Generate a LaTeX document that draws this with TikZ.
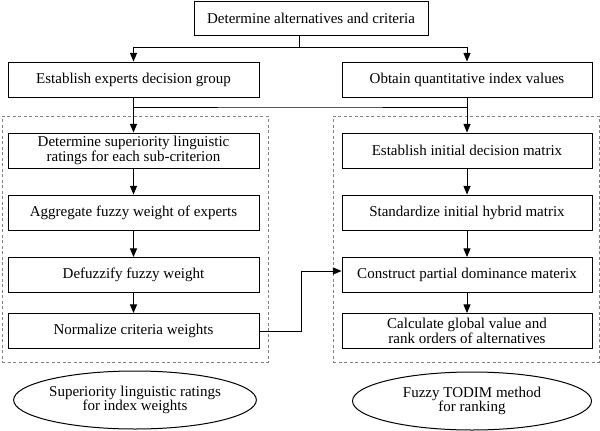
\documentclass[tikz,border=0pt]{standalone}
\usepackage{fontspec}
\setmainfont{Liberation Serif}
\usetikzlibrary{shapes,arrows}
\tikzset{%
	block/.style    	= {draw, rectangle, inner sep = 0pt, align = center, minimum height = 35pt, minimum width = 251pt},
	rblock/.style   	= {block, minimum width = 250pt},
	oval/.style     	= {draw, ellipse, inner sep = 0pt, align = center, minimum height = 58pt}, % Method labels
	frame/.style    	= {draw = gray, dashed, dash pattern = on 3pt off 2.5pt, line width = 0.7pt, rectangle, minimum width = 266pt, minimum height = 246pt},
	input/.style    	= {coordinate} % Branch point
}

\begin{document}
\begin{tikzpicture}[x = 1pt, y = -1pt, line width = 1pt, >=triangle 45, font = \fontsize{15}{14.5}\selectfont]
	\useasboundingbox (0, 0) rectangle (600, 431);
	\draw % Drawing the dashed frames
	node at (135, 239) [frame] (leftframe) {}
	node at (466, 239) [frame] (rightframe) {}
	;

	\draw % Drawing the steps
	node at (311, 18) [block, minimum width = 234pt, minimum height = 34pt] (alts) {Determine alternatives and criteria}
	node at (133.5, 79.5) [block] (group) {Establish experts decision group}
	node at (467, 79.5) [rblock] (index) {Obtain quantitative index values}
	node at (133.5, 150.5) [block] (rate) {Determine superiority linguistic\\ratings for each sub-criterion}
	node at (133.5, 212.5) [block] (aggr) {Aggregate fuzzy weight of experts}
	node at (133.5, 275) [block] (defuzz) {Defuzzify fuzzy weight}
	node at (133.5, 331) [block] (norm) {Normalize criteria weights}
	node at (467, 150.5) [rblock] (decmat) {Establish initial decision matrix}
	node at (467, 212.5) [rblock] (stdmat) {Standardize initial hybrid matrix}
	node at (467, 275) [rblock] (dommat) {Construct partial dominance materix}
	node at (467, 331) [rblock] (rank) {Calculate global value and\\rank orders of alternatives}
	node at (135, 400) [oval, minimum width = 228pt] (ratingsoval) {Superiority linguistic ratings\\for index weights}
	node at (472, 401) [oval, minimum width = 239pt] (todimoval) {Fuzzy TODIM method\\for ranking}
	node at (299, 47) [input] (fork) {}
	node at (300, 107) [input] (join) {}
	node at (301, 331) [input] (bend) {}
	;

	% Drawing the arrows
	\draw (alts.south -| fork) -- (fork);
	\draw[->] (fork) -| (group);
	\draw[->] (fork) -| (index);
	\draw (group.south) |- (join) -| (index.south);
	\draw[->] (group.south |- join) -- (rate);
	\draw[->] (index.south |- join) -- (decmat);
	\draw[->] (rate) -- (aggr);
	\draw[->] (aggr) -- (defuzz);
	\draw[->] (defuzz) -- (norm);
	\draw[->] (decmat) -- (stdmat);
	\draw[->] (stdmat) -- (dommat);
	\draw[->] (dommat) -- (rank);
	\draw[->] (norm.east) -- (bend) |- ([yshift = 4pt]dommat.west);
\end{tikzpicture}
\end{document}
